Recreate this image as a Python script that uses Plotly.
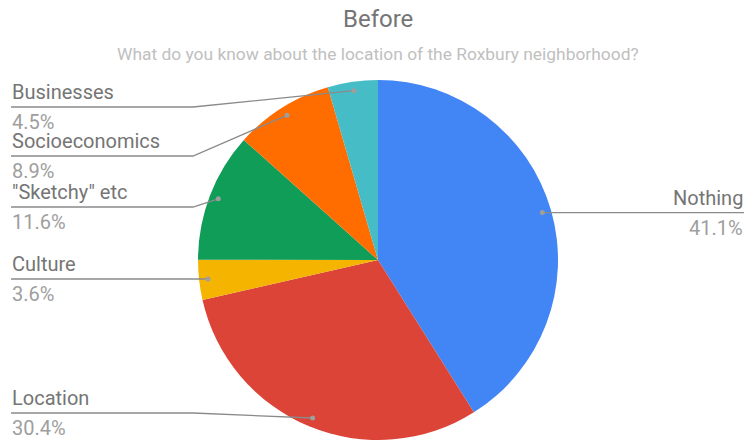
import math
import plotly.graph_objects as go

# ---- data ----
categories = ["Nothing", "Location", "Culture", "\"Sketchy\" etc", "Socioeconomics", "Businesses"]
percent_values = [41.1, 30.4, 3.6, 11.6, 8.9, 4.5]
slice_colors = ["#4285F4", "#DB4437", "#F4B400", "#0F9D58", "#FF6D01", "#46BDC6"]
title_text = "Before"
subtitle_text = "What do you know about the location of the Roxbury neighborhood?"

# ---- layout (pixels) ----
W, H = 747, 440
CX, CY, R = 378, 260, 180
DOT_FRAC = 0.95
LEFT_X = 11
KNEE_X = 193
RIGHT_X = 744
# line y for each label (None -> use the dot's own y)
label_line_y = [None, 413, None, 207, 156, 107]

NAME_COLOR = "#757575"
PCT_COLOR = "#9e9e9e"
LINE_COLOR = "#8a8a8a"
FONT = "Roboto"
LABEL_SIZE = 20


def px(x):
    return x / W


def py(y):
    return 1 - y / H


fig = go.Figure()
fig.add_trace(go.Pie(
    labels=categories,
    values=percent_values,
    sort=False,
    direction="clockwise",
    rotation=0,
    marker=dict(colors=slice_colors, line=dict(width=0)),
    textinfo="none",
    hoverinfo="label+percent",
    showlegend=False,
    domain=dict(x=[px(CX - R), px(CX + R)], y=[py(CY + R), py(CY - R)]),
))

shapes = []
annotations = []
total = sum(percent_values)
cum = 0.0
for name, v, ly in zip(categories, percent_values, label_line_y):
    mid = (cum + v / 2) / total * 2 * math.pi
    cum += v
    dx = CX + DOT_FRAC * R * math.sin(mid)
    dy = CY - DOT_FRAC * R * math.cos(mid)
    right = math.sin(mid) > 0
    yl = dy if ly is None else ly
    pct = f"{v / total * 100:.1f}%"
    if right:
        path = f"M {px(dx)},{py(dy)} L {px(RIGHT_X)},{py(yl)}"
        ax, anchor = RIGHT_X, "right"
    else:
        path = (f"M {px(LEFT_X)},{py(yl)} L {px(KNEE_X)},{py(yl)} "
                f"L {px(dx)},{py(dy)}")
        ax, anchor = LEFT_X, "left"
    shapes.append(dict(type="path", path=path, xref="paper", yref="paper",
                       line=dict(color=LINE_COLOR, width=1.3)))
    shapes.append(dict(type="circle", xref="paper", yref="paper",
                       x0=px(dx - 2.5), x1=px(dx + 2.5),
                       y0=py(dy + 2.5), y1=py(dy - 2.5),
                       fillcolor="#9e9e9e", line=dict(width=0)))
    annotations.append(dict(x=px(ax), y=py(yl - 2), xref="paper", yref="paper",
                            text=name, showarrow=False, xanchor=anchor,
                            yanchor="bottom", borderpad=0,
                            font=dict(family=FONT, size=LABEL_SIZE, color=NAME_COLOR)))
    annotations.append(dict(x=px(ax), y=py(yl + 2), xref="paper", yref="paper",
                            text=pct, showarrow=False, xanchor=anchor,
                            yanchor="top", borderpad=0,
                            font=dict(family=FONT, size=LABEL_SIZE, color=PCT_COLOR)))

annotations.append(dict(x=px(378), y=py(19), xref="paper", yref="paper",
                        text=title_text, showarrow=False, xanchor="center",
                        yanchor="middle",
                        font=dict(family=FONT, size=24, color=NAME_COLOR)))
annotations.append(dict(x=px(378), y=py(54), xref="paper", yref="paper",
                        text=subtitle_text, showarrow=False, xanchor="center",
                        yanchor="middle",
                        font=dict(family=FONT, size=17.4, color="#c0c0c0")))

fig.update_layout(
    width=W, height=H,
    margin=dict(l=0, r=0, t=0, b=0),
    paper_bgcolor="white", plot_bgcolor="white",
    shapes=shapes, annotations=annotations,
)
fig.write_html(
    "out.html",
    config={"displayModeBar": False},
    post_script="document.body.style.margin='0';document.body.style.overflow='hidden';",
)
